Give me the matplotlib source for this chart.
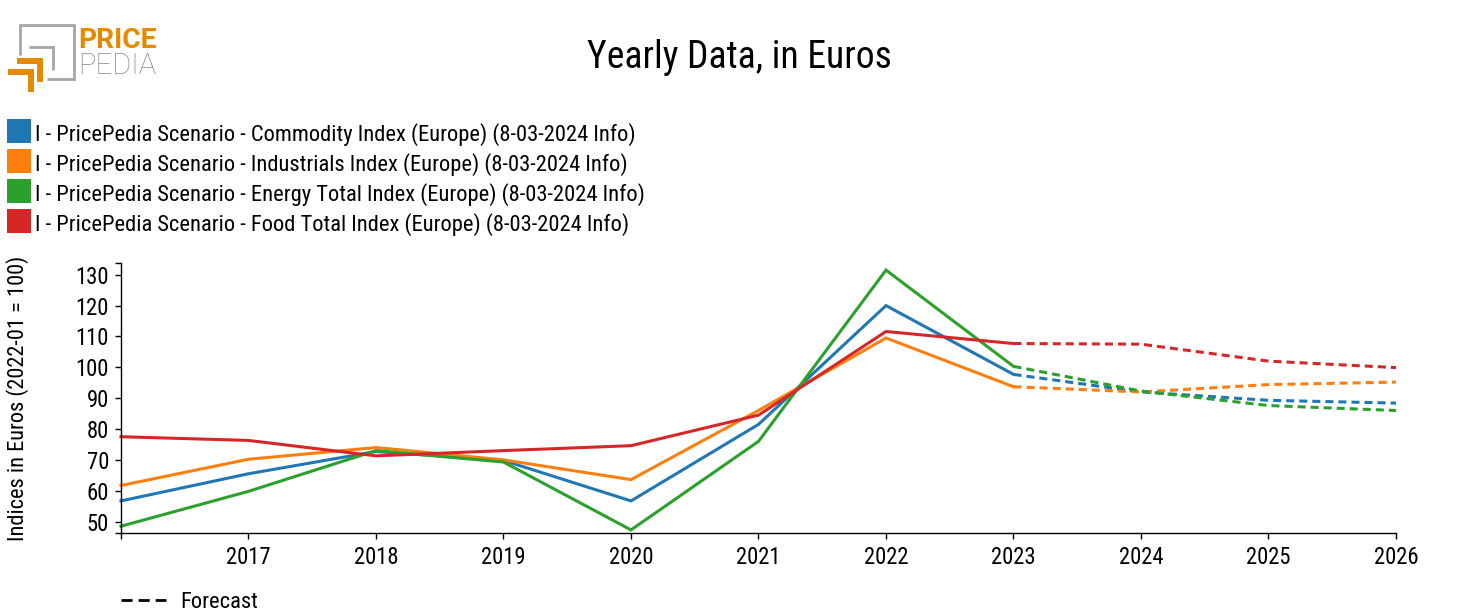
import matplotlib
matplotlib.use("Agg")
import matplotlib.pyplot as plt
from matplotlib.lines import Line2D
from matplotlib.patches import Rectangle
from matplotlib.ticker import FixedLocator

plt.rcParams['font.family'] = ['Roboto Condensed', 'Liberation Sans Narrow', 'Roboto']
plt.rcParams['lines.scale_dashes'] = False

W, H = 1477, 615

years = [2016, 2017, 2018, 2019, 2020, 2021, 2022, 2023, 2024, 2025, 2026]
commodity = [56.7, 65.5, 72.7, 69.8, 56.7, 81.5, 120.0, 97.7, 92.0, 89.3, 88.4]
industrials = [61.7, 70.2, 74.0, 70.0, 63.6, 86.0, 109.5, 93.7, 92.0, 94.4, 95.2]
energy = [48.5, 59.8, 73.0, 69.3, 47.3, 76.0, 131.5, 100.3, 92.3, 87.6, 86.0]
food = [77.5, 76.3, 71.3, 73.0, 74.6, 84.5, 111.6, 107.7, 107.5, 102.0, 99.9]
last_actual = 2023

names = ["I - PricePedia Scenario - Commodity Index (Europe) (8-03-2024 Info)",
         "I - PricePedia Scenario - Industrials Index (Europe) (8-03-2024 Info)",
         "I - PricePedia Scenario - Energy Total Index (Europe) (8-03-2024 Info)",
         "I - PricePedia Scenario - Food Total Index (Europe) (8-03-2024 Info)"]
colors = ["#1f77b4", "#ff7f0e", "#2ca02c", "#d62728"]
yticks = [50, 60, 70, 80, 90, 100, 110, 120, 130]
xlabels = ["", "2017", "2018", "2019", "2020", "2021", "2022", "2023", "2024", "2025", "2026"]

fig = plt.figure(figsize=(W / 100, H / 100), dpi=100)


def fx(x):
    return x / W


def fy(y):
    return 1 - y / H


# axes box in pixels
left, right, top, bottom = 121, 1396, 263, 533
ax = fig.add_axes([fx(left), fy(bottom), (right - left) / W, (bottom - top) / H])

n = years.index(last_actual) + 1
for vals, c in zip([commodity, industrials, energy, food], colors):
    ax.plot(years[:n], vals[:n], color=c, lw=2.2, solid_joinstyle='miter', clip_on=False)
    ax.plot(years[n - 1:], vals[n - 1:], color=c, lw=2.2, dashes=(5.8, 3.6), clip_on=False)

ax.set_xlim(2016, 2026)
ax.set_ylim(46.3, 133.8)
ax.spines['top'].set_visible(False)
ax.spines['right'].set_visible(False)
ax.spines['left'].set_linewidth(1)
ax.spines['bottom'].set_linewidth(1)
ax.set_xticks(years)
ax.set_xticklabels(xlabels)
ax.set_yticks(yticks)
ax.yaxis.set_minor_locator(FixedLocator([46.3, 133.8]))
ax.tick_params(axis='both', which='both', length=4.5, width=1, labelsize=16.3, pad=4.2)
ax.tick_params(axis='x', pad=5)
for lab in ax.get_yticklabels():
    lab.set_va('center_baseline')
ax.set_ylabel("Indices in Euros (2022-01 = 100)", fontsize=16.1)
ax.yaxis.set_label_coords((29 - left) / (right - left), 0.5)

fig.text(fx(739.5), fy(58), "Yearly Data, in Euros", fontsize=27.1, ha='center', va='center')

# legend
for i, (name, c) in enumerate(zip(names, colors)):
    y = 131 + i * 30
    fig.add_artist(Rectangle((fx(7), fy(y + 12)), 24 / W, 24 / H, color=c, lw=0))
    fig.text(fx(35), fy(y + 4), name, fontsize=16.2, va='center')

fig.add_artist(Line2D([fx(121), fx(166)], [fy(600), fy(600)], color='black', lw=2.0, dashes=(8, 4.3)))
fig.text(fx(180), fy(603), "Forecast", fontsize=16.2, va='center')

# logo
gray = "#a6a6a6"
orange = "#e58a00"
logo = [([20, 20, 74, 74, 47], [55, 25, 25, 79, 79], gray, 2.0),
        ([29, 53, 53], [47, 47, 70], gray, 2.0),
        ([17, 40, 40], [61, 61, 82], orange, 4.3),
        ([8, 31, 31], [72, 72, 92], orange, 4.3)]
for xs, ys, c, lw in logo:
    fig.add_artist(Line2D([fx(v) for v in xs], [fy(v) for v in ys], color=c, lw=lw,
                          solid_joinstyle='miter', solid_capstyle='butt'))
fig.text(fx(78), fy(40), "PRICE", fontsize=20.3, color=orange, fontweight='bold', va='center',
         family=['Roboto'])
fig.text(fx(78), fy(66), "PEDIA", fontsize=21, color="#8c8c8c", fontweight='light', va='center',
         family=['Roboto'])

fig.savefig("out.png", dpi=100)
